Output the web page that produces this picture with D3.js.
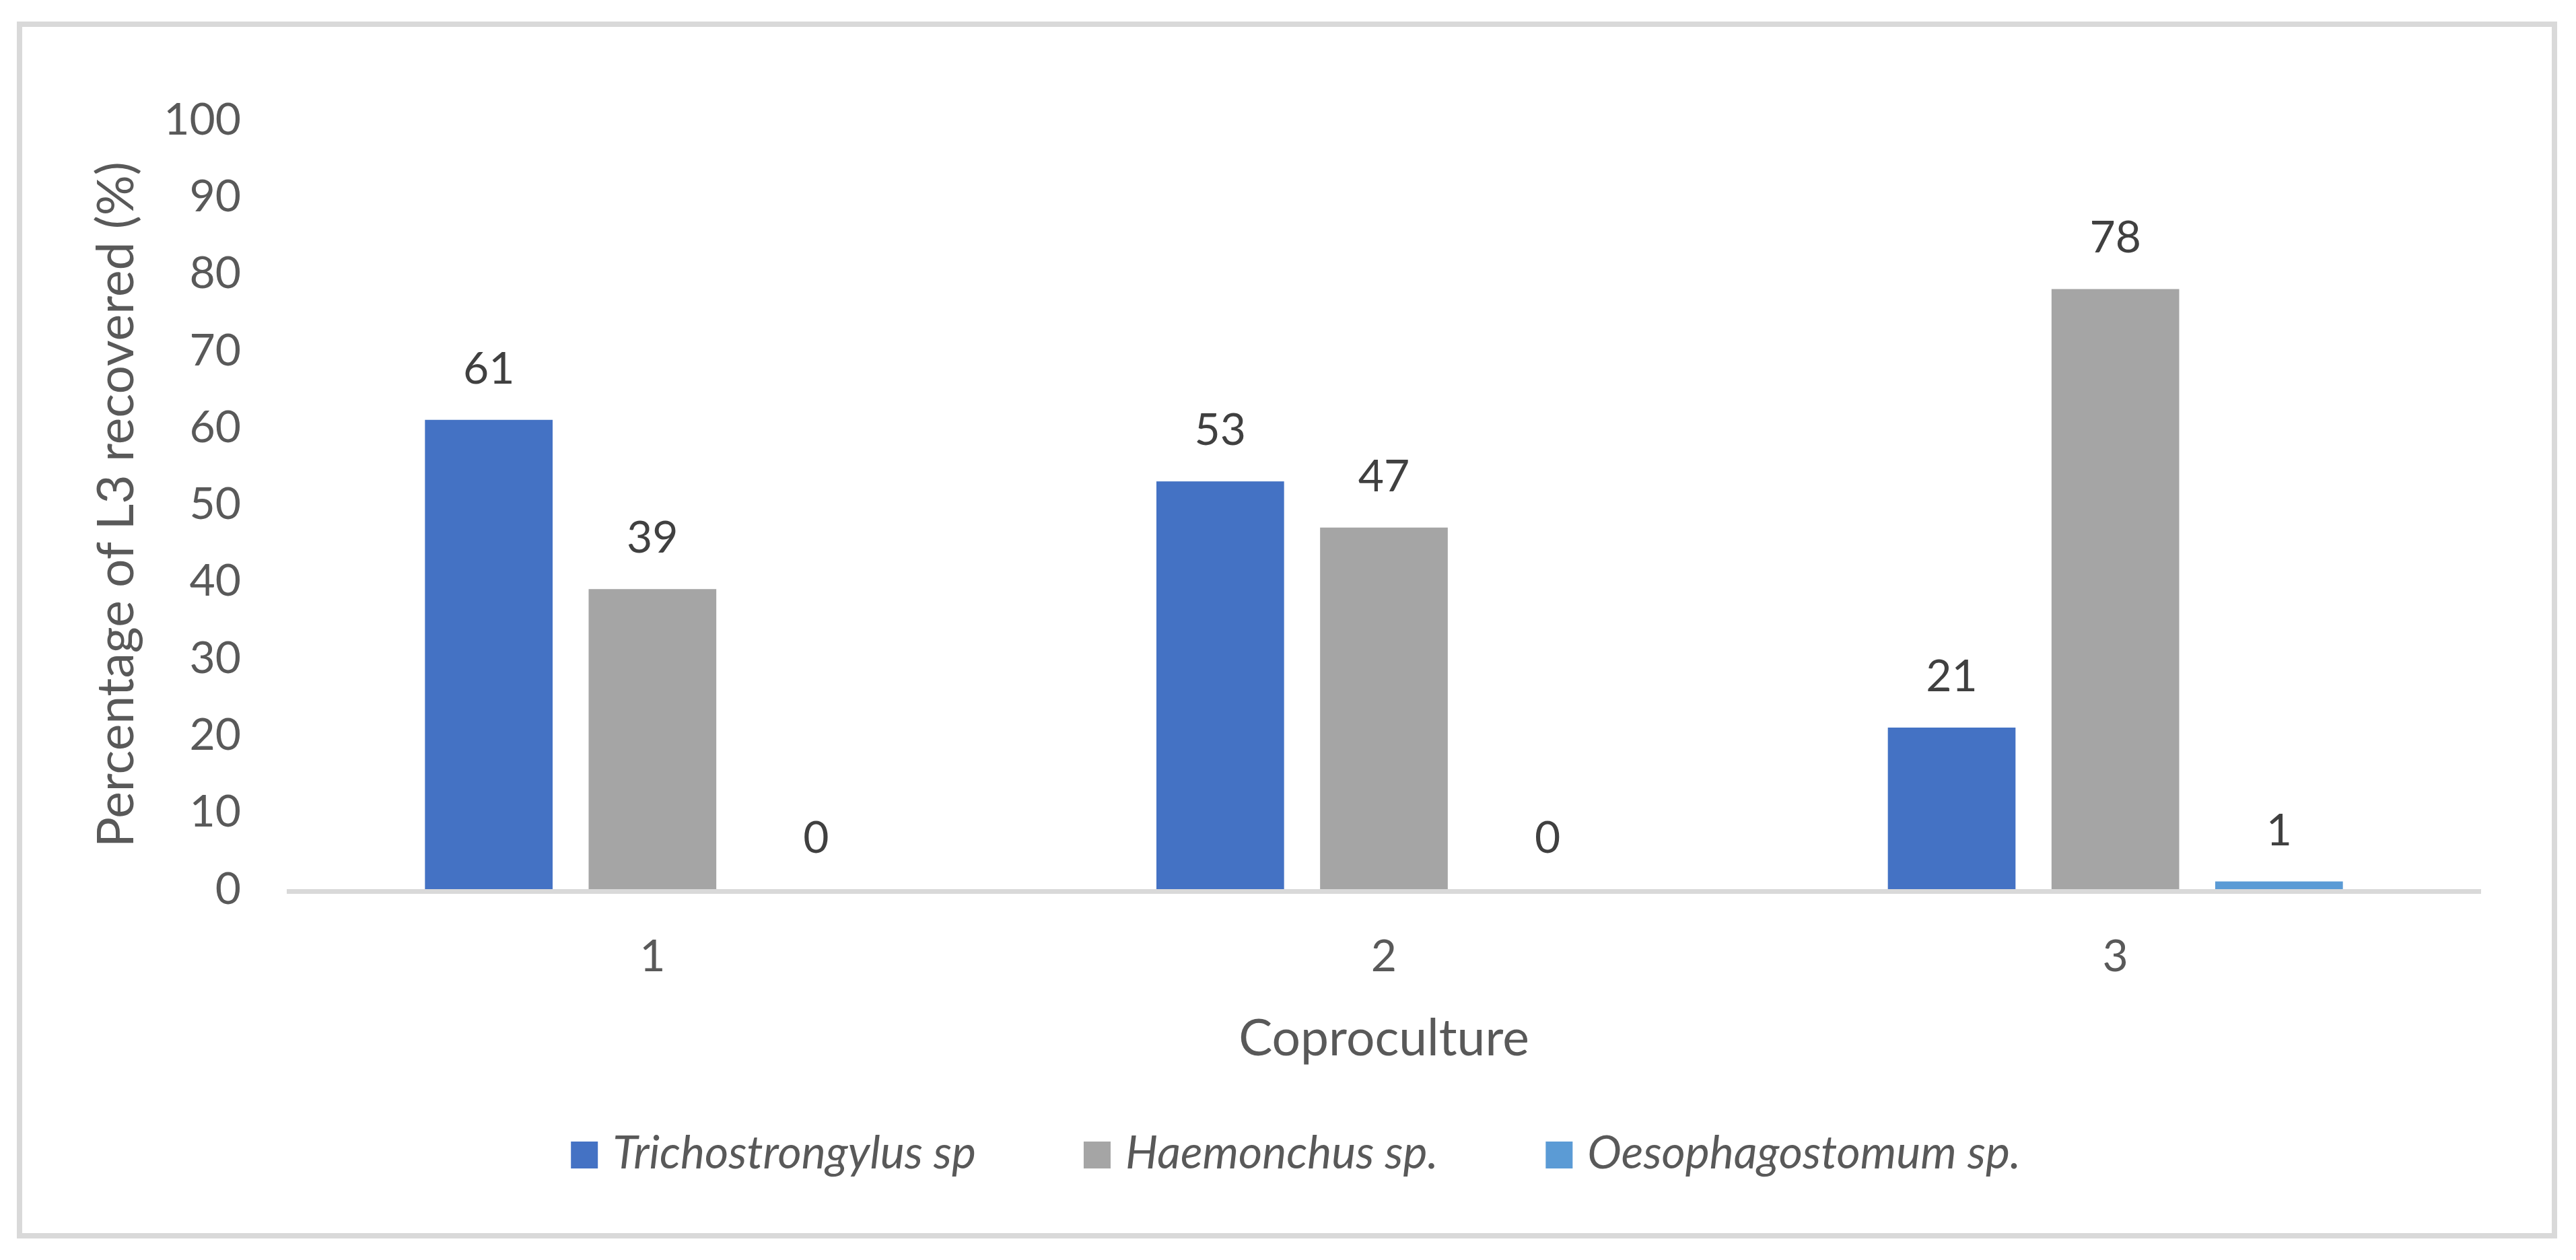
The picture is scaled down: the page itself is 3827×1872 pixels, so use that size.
<!DOCTYPE html>
<html>
<head>
<meta charset="utf-8">
<script src="https://cdn.jsdelivr.net/npm/d3@7"></script>
<style>
  body { margin: 0; background: #fff; }
  svg { display: block; font-family: Lato, sans-serif; }
</style>
</head>
<body>
<div id="chart"></div>
<script>
// data
var categories = ["1", "2", "3"];
var seriesNames = ["Trichostrongylus sp", "Haemonchus sp.", "Oesophagostomum sp."];
var trichostrongylus = [61, 53, 21];
var haemonchus = [39, 47, 78];
var oesophagostomum = [0, 0, 1];
var yTicks = [0, 10, 20, 30, 40, 50, 60, 70, 80, 90, 100];
var seriesColors = ["#4472C4", "#A5A5A5", "#5B9BD5"];

var width = 3827, height = 1872;
var plot = { left: 426, right: 3686, top: 178, bottom: 1321 };
var clusterWidth = 676;

var rows = categories.map(function(c, i) {
  return {
    cat: c,
    values: [trichostrongylus[i], haemonchus[i], oesophagostomum[i]].map(function(v, j) {
      return { series: seriesNames[j], value: v, color: seriesColors[j] };
    })
  };
});

var svg = d3.select("#chart").append("svg")
  .attr("width", width)
  .attr("height", height);

svg.append("rect")
  .attr("width", width).attr("height", height)
  .attr("fill", "#fff");

// outer frame
svg.append("rect")
  .attr("x", 29).attr("y", 36)
  .attr("width", 3795 - 29).attr("height", 1836 - 36)
  .attr("fill", "none")
  .attr("stroke", "#d9d9d9")
  .attr("stroke-width", 8);

var x0 = d3.scaleBand().domain(categories).range([plot.left, plot.right]);
var x1 = d3.scaleBand().domain(seriesNames)
  .range([(x0.bandwidth() - clusterWidth) / 2, (x0.bandwidth() + clusterWidth) / 2])
  .paddingInner(0.22);
var y = d3.scaleLinear().domain([0, 100]).range([plot.bottom, plot.top]);

// y axis labels
var yAxis = svg.append("g")
  .attr("transform", "translate(" + plot.left + ",0)")
  .call(d3.axisLeft(y).tickValues(yTicks).tickSize(0).tickPadding(68));
yAxis.select(".domain").remove();
yAxis.selectAll("text")
  .style("font-family", "Lato, sans-serif")
  .style("font-size", "66px")
  .attr("fill", "#595959");

// x axis
var xAxis = svg.append("g")
  .attr("transform", "translate(0," + plot.bottom + ")")
  .call(d3.axisBottom(x0).tickSize(0));
xAxis.select(".domain").remove();
xAxis.selectAll("text")
  .attr("y", 122).attr("dy", 0)
  .style("font-family", "Lato, sans-serif")
  .style("font-size", "66px")
  .attr("fill", "#595959");

// bars
var groups = svg.selectAll("g.cluster")
  .data(rows)
  .enter().append("g")
  .attr("class", "cluster")
  .attr("transform", function(d) { return "translate(" + x0(d.cat) + ",0)"; });

groups.selectAll("rect")
  .data(function(d) { return d.values; })
  .enter().append("rect")
  .attr("x", function(d) { return x1(d.series); })
  .attr("width", x1.bandwidth())
  .attr("y", function(d) { return y(d.value); })
  .attr("height", function(d) { return y(0) - y(d.value); })
  .attr("fill", function(d) { return d.color; });

groups.selectAll("text.val")
  .data(function(d) { return d.values; })
  .enter().append("text")
  .attr("class", "val")
  .attr("x", function(d) { return x1(d.series) + x1.bandwidth() / 2; })
  .attr("y", function(d) { return y(d.value) - 54; })
  .attr("text-anchor", "middle")
  .style("font-size", "66px")
  .attr("fill", "#404040")
  .text(function(d) { return d.value; });

// baseline
svg.append("line")
  .attr("x1", plot.left).attr("x2", plot.right)
  .attr("y1", y(0) + 3.5).attr("y2", y(0) + 3.5)
  .attr("stroke", "#d9d9d9")
  .attr("stroke-width", 7);

// axis titles
svg.append("text")
  .attr("x", (plot.left + plot.right) / 2)
  .attr("y", 1568)
  .attr("text-anchor", "middle")
  .style("font-size", "75px")
  .attr("fill", "#595959")
  .text("Coproculture");

svg.append("text")
  .attr("transform", "translate(198," + (plot.top + plot.bottom) / 2 + ") rotate(-90)")
  .attr("text-anchor", "middle")
  .style("font-size", "75px")
  .attr("fill", "#595959")
  .text("Percentage of L3 recovered (%)");

// legend
var legend = svg.append("g");
var lx = 0, legendGap = 160;
seriesNames.forEach(function(name, i) {
  var item = legend.append("g").attr("transform", "translate(" + lx + ",0)");
  item.append("rect")
    .attr("x", 0).attr("y", -40)
    .attr("width", 40).attr("height", 40)
    .attr("fill", seriesColors[i]);
  var t = item.append("text")
    .attr("x", 62).attr("y", 0)
    .style("font-size", "68px")
    .style("font-style", "italic")
    .attr("fill", "#595959")
    .text(name);
  lx += 62 + t.node().getComputedTextLength() + legendGap;
});
var legendWidth = lx - legendGap;
legend.attr("transform", "translate(" + (1925 - legendWidth / 2) + ",1736)");
</script>
</body>
</html>
